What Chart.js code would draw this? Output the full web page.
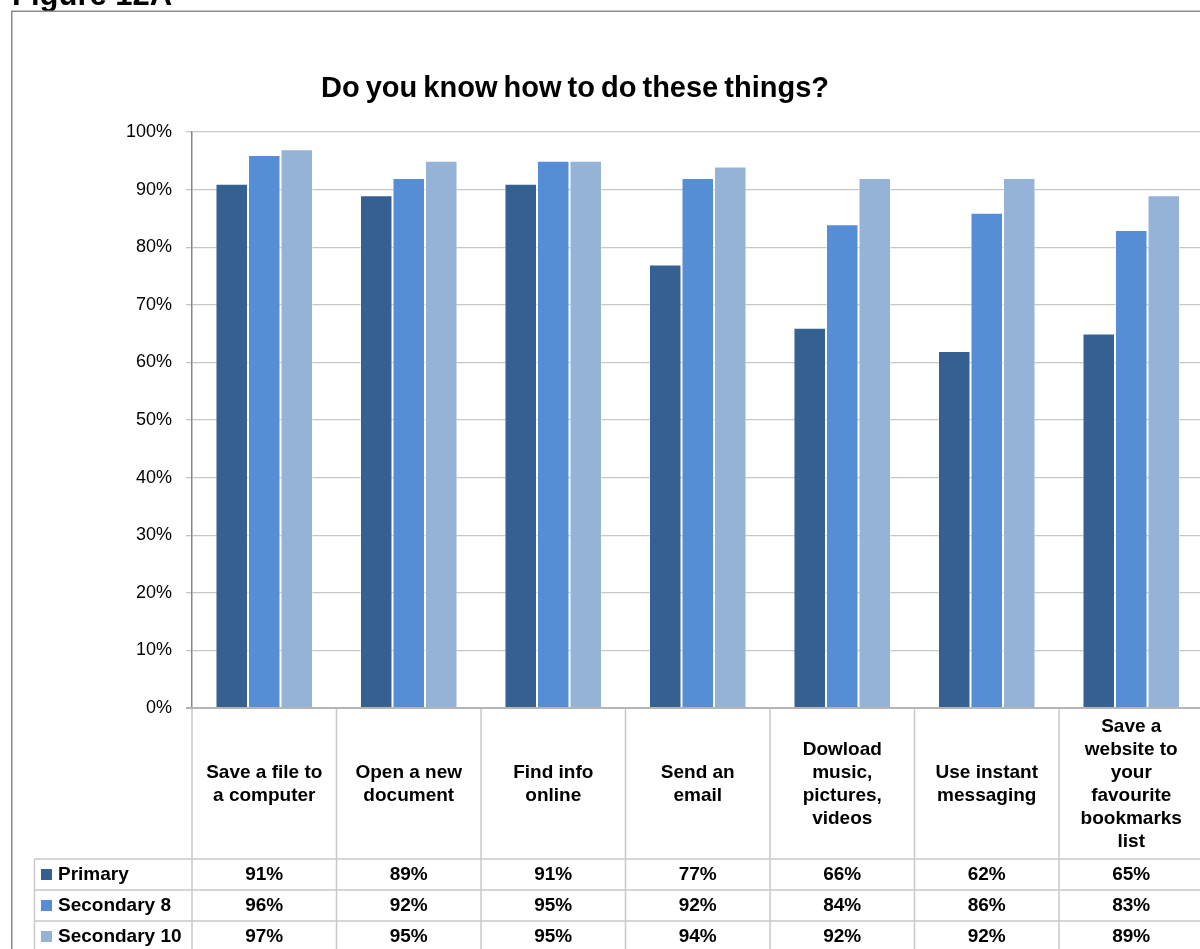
<!DOCTYPE html>
<html>
<head>
<meta charset="utf-8">
<script src="https://cdn.jsdelivr.net/npm/chart.js@4/dist/chart.umd.min.js"></script>
<style>
  html, body { margin: 0; padding: 0; overflow: hidden; background: #ffffff; }
  #wrap { width: 1210px; height: 949px; }
</style>
</head>
<body>
<div id="wrap"><canvas id="c" width="1210" height="949"></canvas></div>
<script>
// Survey categories (one array entry per line of the wrapped label)
const categories = [
  ['Save a file to', 'a computer'],
  ['Open a new', 'document'],
  ['Find info', 'online'],
  ['Send an', 'email'],
  ['Dowload', 'music,', 'pictures,', 'videos'],
  ['Use instant', 'messaging'],
  ['Save a', 'website to', 'your', 'favourite', 'bookmarks', 'list']
];

const seriesNames = ['Primary', 'Secondary 8', 'Secondary 10'];
const primary     = [91, 89, 91, 77, 66, 62, 65];
const secondary8  = [96, 92, 95, 92, 84, 86, 83];
const secondary10 = [97, 95, 95, 94, 92, 92, 89];
const seriesColors = ['#376092', '#558ED5', '#95B3D7'];

const yTicks = [0, 10, 20, 30, 40, 50, 60, 70, 80, 90, 100];

const FONT = '"Liberation Sans", Arial, sans-serif';
const GRID = '#c6c6c6';
const TABLE_LINE = '#c8c8c8';

// Frame, heading, title and the data table beneath the plot
const decorations = {
  id: 'decorations',
  beforeDraw(chart) {
    const ctx = chart.ctx;
    ctx.save();
    ctx.fillStyle = '#ffffff';
    ctx.fillRect(0, 0, chart.width, chart.height);

    // figure heading (runs off the top edge)
    ctx.fillStyle = '#000000';
    ctx.font = 'bold 31px ' + FONT;
    ctx.textAlign = 'left';
    ctx.textBaseline = 'alphabetic';
    ctx.fillText('Figure 12A', 12, 5);

    // outer frame
    ctx.strokeStyle = '#8c8c8c';
    ctx.lineWidth = 1.5;
    ctx.strokeRect(11.75, 11.25, chart.width + 50, chart.height + 50);

    // chart title
    ctx.font = 'bold 29px ' + FONT;
    ctx.textAlign = 'center';
    ctx.textBaseline = 'middle';
    if ('wordSpacing' in ctx) ctx.wordSpacing = '-2px';
    ctx.fillText('Do you know how to do these things?', 575, 89);
    if ('wordSpacing' in ctx) ctx.wordSpacing = '0px';
    ctx.restore();
  },
  afterDraw(chart) {
    const ctx = chart.ctx;
    const x = chart.scales.x;
    const area = chart.chartArea;
    const n = categories.length;
    const colW = (area.right - area.left) / n;
    const tableTop = area.bottom;
    const rowTop = 859;
    const rowH = 31;
    const legendLeft = 34.5;
    const bottom = chart.height + 20;
    const series = [primary, secondary8, secondary10];

    ctx.save();
    ctx.strokeStyle = TABLE_LINE;
    ctx.lineWidth = 1.5;

    // column separators
    for (let i = 0; i <= n; i++) {
      const cx = area.left + colW * i;
      ctx.beginPath();
      ctx.moveTo(cx, tableTop);
      ctx.lineTo(cx, bottom);
      ctx.stroke();
    }
    // legend column left edge
    ctx.beginPath();
    ctx.moveTo(legendLeft, rowTop);
    ctx.lineTo(legendLeft, bottom);
    ctx.stroke();
    // row separators
    for (let r = 0; r <= series.length; r++) {
      const ry = rowTop + rowH * r;
      ctx.beginPath();
      ctx.moveTo(legendLeft, ry);
      ctx.lineTo(chart.width, ry);
      ctx.stroke();
    }
    // baseline under the bars
    ctx.strokeStyle = '#b4b4b4';
    ctx.lineWidth = 2;
    ctx.beginPath();
    ctx.moveTo(area.left - 6, tableTop);
    ctx.lineTo(chart.width, tableTop);
    ctx.stroke();

    // category labels
    ctx.fillStyle = '#000000';
    ctx.font = 'bold 19px ' + FONT;
    ctx.textAlign = 'center';
    ctx.textBaseline = 'middle';
    const lineH = 23;
    const midY = (tableTop + rowTop) / 2 + 1;
    categories.forEach((lines, i) => {
      const cx = x.getPixelForValue(i);
      const startY = midY - (lines.length - 1) * lineH / 2;
      lines.forEach((t, k) => ctx.fillText(t, cx, startY + k * lineH));
    });

    // legend keys and values
    series.forEach((vals, r) => {
      const cy = rowTop + rowH * r + rowH / 2 + 0.5;
      ctx.fillStyle = seriesColors[r];
      ctx.fillRect(41, cy - 6, 11, 11);
      ctx.fillStyle = '#000000';
      ctx.textAlign = 'left';
      ctx.fillText(seriesNames[r], 58, cy);
      ctx.textAlign = 'center';
      vals.forEach((v, i) => ctx.fillText(v + '%', x.getPixelForValue(i), cy));
    });
    ctx.restore();
  }
};

const labelsText = categories.map(l => l.join(' '));

new Chart(document.getElementById('c'), {
  type: 'bar',
  data: {
    labels: labelsText,
    datasets: [primary, secondary8, secondary10].map((d, i) => ({
      label: seriesNames[i],
      data: d,
      backgroundColor: seriesColors[i],
      borderColor: 'rgba(255,255,255,0.45)',
      borderWidth: 1,
      categoryPercentage: 0.675,
      barPercentage: 1.0
    }))
  },
  options: {
    responsive: false,
    animation: false,
    devicePixelRatio: 1,
    layout: { padding: { top: 132, bottom: 241, left: 0, right: 6.5 } },
    plugins: { legend: { display: false }, title: { display: false }, tooltip: { enabled: false } },
    scales: {
      x: { display: false },
      y: {
        min: 0,
        max: 100,
        afterFit(scale) { scale.width = 192; },
        afterBuildTicks(scale) { scale.ticks = yTicks.map(v => ({ value: v })); },
        ticks: {
          padding: 14,
          color: '#000000',
          font: { family: FONT, size: 18 },
          callback: v => v + '%'
        },
        grid: { color: GRID, lineWidth: 1.3, tickLength: 6, tickColor: GRID },
        border: { color: '#868686', width: 1.5 }
      }
    }
  },
  plugins: [decorations]
});
</script>
</body>
</html>
